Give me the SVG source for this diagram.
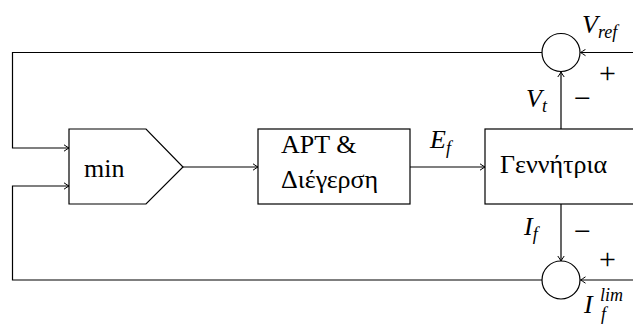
<svg xmlns="http://www.w3.org/2000/svg" width="633" height="325" viewBox="0 0 633 325">
  <style>
    .box { fill: #fff; stroke: #000; stroke-width: 1.2; }
    .wire { fill: none; stroke: #000; stroke-width: 1.2; }
    .arr { marker-end: url(#tip); }
    text { font-family: 'Liberation Serif', 'Times New Roman', serif; fill: #000; }
    .lbl { font-size: 26px; }
    .math { font-style: italic; font-size: 26px; }
    .sub { font-size: 18px; }
    .sign { font-size: 30px; }
  </style>
  <defs>
    <marker id="tip" viewBox="-6 -4 7 8" refX="0" refY="0" markerWidth="7" markerHeight="8" markerUnits="userSpaceOnUse" orient="auto">
      <path d="M -5,-3.2 Q -1.5,-0.8 0,0 Q -1.5,0.8 -5,3.2" fill="none" stroke="#000" stroke-width="1"/>
    </marker>
  </defs>

  <!-- connectors -->
  <g id="connectors">
    <!-- voltage error loop back to min -->
    <path class="wire arr" d="M 542,52.5 H 12.5 V 148 H 69"/>
    <!-- current error loop back to min -->
    <path class="wire arr" d="M 542,280 H 12.5 V 186 H 69"/>
    <path class="wire arr" d="M 183,167 H 258"/>
    <path class="wire arr" d="M 410,167 H 485"/>
    <text class="math" x="430" y="148">E<tspan class="sub" dy="6">f</tspan></text>
    <!-- Vt feedback -->
    <path class="wire arr" d="M 561,129 V 72"/>
    <!-- Vref input -->
    <path class="wire arr" d="M 633,52.5 H 580.5"/>
    <!-- If feedback -->
    <path class="wire arr" d="M 561,204 V 261"/>
    <!-- If limit input -->
    <path class="wire arr" d="M 633,280 H 580.5"/>
  </g>

  <g id="min">
    <path class="box" d="M 69,129 H 146 L 183,167 L 146,204 H 69 Z"/>
    <text class="lbl" x="84" y="177">min</text>
  </g>

  <g id="avr">
    <rect class="box" x="258" y="129" width="152" height="75"/>
    <text class="lbl" x="281" y="153">APT &amp;</text>
    <text class="lbl" x="281" y="188">Διέγερση</text>
  </g>

  <g id="generator">
    <rect class="box" x="485" y="129" width="152" height="75"/>
    <text class="lbl" x="500" y="173">Γεννήτρια</text>
  </g>

  <g id="sum-voltage">
    <ellipse class="box" cx="561" cy="52.5" rx="19" ry="19"/>
    <text class="math" x="582" y="33">V<tspan class="sub" dy="5">ref</tspan></text>
    <text class="sign" x="599" y="83">+</text>
    <text class="math" x="526" y="107">V<tspan class="sub" dy="5">t</tspan></text>
    <text class="sign" x="574" y="108">−</text>
  </g>

  <g id="sum-current">
    <ellipse class="box" cx="561" cy="280" rx="19" ry="19"/>
    <text class="math" x="524" y="235">I<tspan class="sub" dy="5">f</tspan></text>
    <text class="sign" x="574" y="241">−</text>
    <text class="sign" x="599" y="269">+</text>
    <text class="math" x="584" y="313">I</text>
    <text class="math sub" x="600" y="301">lim</text>
    <text class="math sub" x="601" y="320">f</text>
  </g>
</svg>
